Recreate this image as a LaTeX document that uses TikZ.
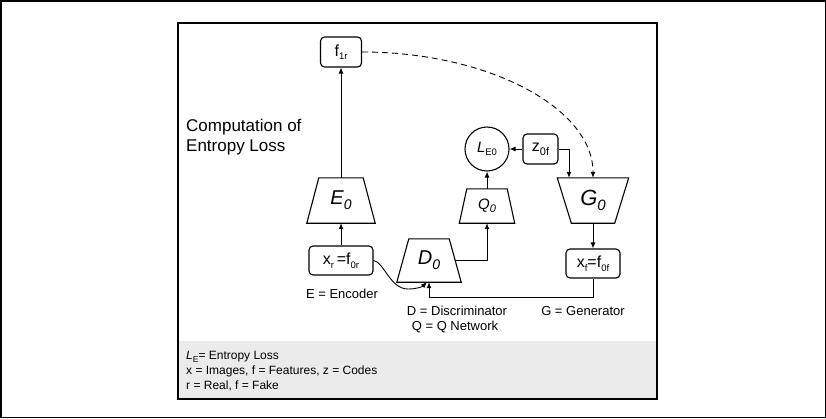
\documentclass[tikz,border=0pt]{standalone}
\usepackage{fontspec}
\setmainfont{Liberation Sans}
\usetikzlibrary{arrows.meta}
\newcommand{\myfs}[2]{\fontsize{#1}{#2}\selectfont}
\newcommand{\sbs}[3]{\raisebox{-#2pt}{\fontsize{#1}{#1}\selectfont #3}}
\definecolor{leggray}{HTML}{EBEBEB}
\begin{document}
\begin{tikzpicture}[x=1pt,y=-1pt,
  arr/.style={-{Latex[length=6pt,width=5pt]}, line width=0.9pt},
  rbox/.style={draw, rounded corners=4pt, line width=1.1pt, inner sep=0pt, font=\myfs{16}{16}},
  trap/.style={inner sep=0pt, font=\myfs{20}{20}\itshape},
  trapline/.style={line width=1.1pt},
  lab/.style={font=\myfs{13}{13}, inner sep=0pt},
]
\useasboundingbox (0,0) rectangle (826,418);
\draw[line width=1.5pt] (0.75,0.75) rectangle (825.25,417.25);
\fill[leggray] (178,341) rectangle (657,399);
\draw[line width=1.3pt] (178,23) rectangle (657,399);

% boxes
\node[rbox, minimum width=41, minimum height=30] (f1r) at (341,52) {f\sbs{9.5}{3.5}{1r}};
\node[rbox, minimum width=64, minimum height=29] (xr) at (341,260.5) {x\sbs{9.5}{4}{r}\,=f\sbs{9.5}{4}{0r}};
\node[rbox, minimum width=54, minimum height=29] (xf) at (593,263.5) {x\sbs{9.5}{4}{f}=f\sbs{9.5}{4}{0f}};
\node[rbox, minimum width=35, minimum height=30] (z) at (540.5,149) {z\sbs{11}{4}{0f}};
\node[draw, circle, minimum size=44, inner sep=0pt, line width=1.1pt, font=\myfs{15}{15}] (LE) at (487,149) {\textit{L}\sbs{9.5}{3.5}{E0}};

% trapezoids
\node[trap, minimum width=68, minimum height=45] (E0) at (341,200.5) {E\sbs{14}{5}{0}};
\draw[trapline] (E0.south west) -- (E0.south east) -- ([xshift=-12]E0.north east) -- ([xshift=12]E0.north west) -- cycle;
\node[trap, minimum width=64, minimum height=43] (D0) at (429,260.5) {D\sbs{14}{5}{0}};
\draw[trapline] (D0.south west) -- (D0.south east) -- ([xshift=-12]D0.north east) -- ([xshift=12]D0.north west) -- cycle;
\node[trap, minimum width=55, minimum height=34, font=\myfs{15}{15}\itshape] (Q0) at (487,206) {Q\sbs{11}{3.5}{0}};
\draw[trapline] (Q0.south west) -- (Q0.south east) -- ([xshift=-7.5]Q0.north east) -- ([xshift=7.5]Q0.north west) -- cycle;
\node[trap, minimum width=71, minimum height=45, font=\myfs{22}{22}\itshape] (G0) at (593,200.5) {G\sbs{15}{5.5}{0}};
\draw[trapline] (G0.north west) -- (G0.north east) -- ([xshift=-14]G0.south east) -- ([xshift=14]G0.south west) -- cycle;
\coordinate (D0r) at ([xshift=-6]D0.east);

% connectors
\draw[arr] (xr.north) -- (E0.south);
\draw[arr] (E0.north) -- (f1r.south);
\draw[arr] (Q0.north) -- (LE.south);
\draw[arr] (z.west) -- (LE.east);
\draw[arr] (z.east) -| ([xshift=-24]G0.north);
\draw[arr, dash pattern=on 6pt off 4pt] (f1r.east) .. controls (488,52) and (593,108) .. (G0.north);
\draw[arr] (G0.south) -- (xf.north);
\draw[arr] (xf.south) -- ++(0,19) -| (D0.south);
\draw[arr] (xr.east) .. controls (384,262) and (390,289) .. (408,289) .. controls (416,289) and (422,287) .. ([xshift=-2]D0.south);
\draw[arr] (D0r) -| (Q0.south);

% labels
\node[lab] (lE) at (342,294) {E = Encoder};
\node[lab] (lD) at (457,311) {D = Discriminator};
\node[lab] (lQ) at (455,327) {Q = Q Network};
\node[lab] (lG) at (583,311) {G = Generator};
\node[font=\myfs{17}{19.5}, align=left, anchor=north west, inner sep=0pt] (title) at (186,119) {Computation of\\Entropy Loss};
\node[font=\myfs{12}{14.8}, align=left, anchor=north west, inner sep=0pt] (leg) at (186,351.5) {\textit{L}\sbs{8.5}{3}{E}= Entropy Loss\\x = Images, f = Features, z = Codes\\r = Real, f = Fake};
\end{tikzpicture}
\end{document}
